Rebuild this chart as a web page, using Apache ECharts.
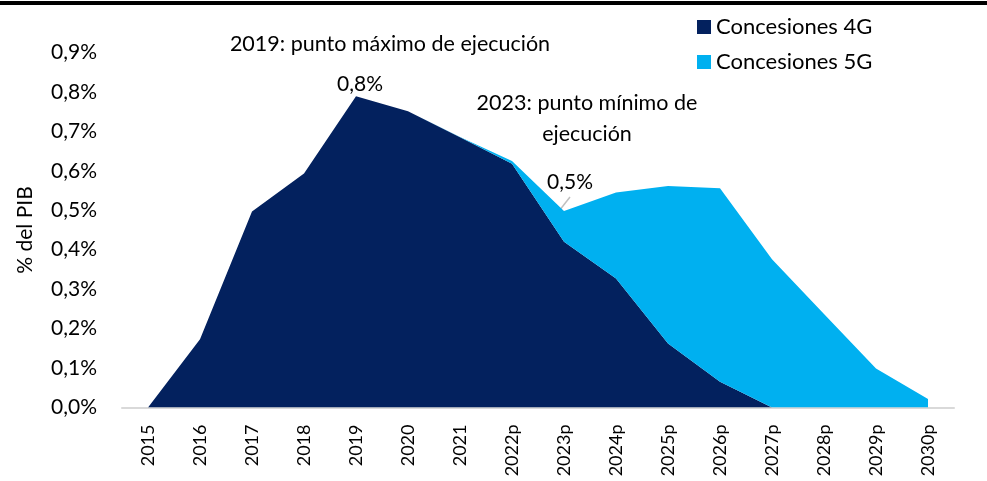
<!DOCTYPE html>
<html>
<head>
<meta charset="utf-8">
<script src="https://cdn.jsdelivr.net/npm/echarts@6/dist/echarts.min.js"></script>
<style>
html,body{margin:0;padding:0;background:#fff;}
#chart{width:987px;height:481px;}
</style>
</head>
<body>
<div id="chart"></div>
<script>
const categories = ['2015','2016','2017','2018','2019','2020','2021','2022p','2023p','2024p','2025p','2026p','2027p','2028p','2029p','2030p'];
const concesiones4G = [0, 0.173, 0.497, 0.593, 0.789, 0.751, 0.685, 0.618, 0.420, 0.327, 0.1625, 0.065, 0, 0, 0, 0];
const concesiones5G = [0, 0, 0, 0, 0, 0, 0.001, 0.007, 0.078, 0.218, 0.399, 0.491, 0.376, 0.237, 0.099, 0.0215];
const yTicks = { min: 0, max: 0.9, interval: 0.1 };
const seriesNames = ['Concesiones 4G', 'Concesiones 5G'];
const annotations = [
  { text: '2019: punto máximo de ejecución' },
  { text: '2023: punto mínimo de\nejecución' }
];
const peakIndex = 4, troughIndex = 8;

const FONT = 'Lato';
const chart = echarts.init(document.getElementById('chart'), null, { renderer: 'canvas' });

function pct(v){ return v.toFixed(1).replace('.', ',') + '%'; }

chart.setOption({
  animation: false,
  textStyle: { fontFamily: FONT },
  grid: { left: 122, right: 33, top: 52.5, bottom: 73.5, containLabel: false },
  legend: {
    left: 692, top: 11, orient: 'vertical', itemGap: 13,
    itemWidth: 14, itemHeight: 14, icon: 'rect',
    textStyle: { fontSize: 22, color: '#000', fontFamily: FONT },
    data: seriesNames
  },
  xAxis: {
    type: 'category', data: categories, boundaryGap: true,
    axisLine: { lineStyle: { color: '#d9d9d9', width: 2 } },
    axisTick: { show: false },
    axisLabel: { rotate: 90, fontSize: 18, color: '#000', margin: 17, fontFamily: FONT }
  },
  yAxis: {
    type: 'value', min: yTicks.min, max: yTicks.max, interval: yTicks.interval,
    name: '% del PIB', nameLocation: 'middle', nameGap: 86, nameRotate: 90,
    nameTextStyle: { fontSize: 21, color: '#000', fontFamily: FONT },
    axisLine: { show: false }, axisTick: { show: false }, splitLine: { show: false },
    axisLabel: { formatter: pct, fontSize: 21, color: '#000', margin: 25, fontFamily: FONT }
  },
  series: [
    {
      name: seriesNames[0], type: 'line', stack: 'total', data: concesiones4G,
      symbol: 'none', lineStyle: { width: 0 },
      itemStyle: { color: '#03215E' },
      areaStyle: { color: '#03215E', opacity: 1 }
    },
    {
      name: seriesNames[1], type: 'line', stack: 'total', data: concesiones5G,
      symbol: 'none', lineStyle: { width: 0 },
      itemStyle: { color: '#00B0F0' },
      areaStyle: { color: '#00B0F0', opacity: 1 }
    }
  ]
});

const pkVal = concesiones4G[peakIndex] + concesiones5G[peakIndex];
const trVal = concesiones4G[troughIndex] + concesiones5G[troughIndex];
const pk = chart.convertToPixel({ gridIndex: 0 }, [peakIndex, pkVal]);
const tr = chart.convertToPixel({ gridIndex: 0 }, [troughIndex, trVal]);
const txt = (x, y, s, size, extra) => Object.assign({ type: 'text', x, y, style: Object.assign({ text: s, fontSize: size, fill: '#000', fontFamily: FONT, align: 'center', verticalAlign: 'middle' }, extra || {}) });

chart.setOption({
  graphic: [
    { type: 'rect', shape: { x: 0, y: 1, width: 987, height: 4 }, style: { fill: '#000' } },
    txt(pk[0] + 34, pk[1] - 52, annotations[0].text, 21.5),
    txt(pk[0] + 4, pk[1] - 12, pct(pkVal), 21),
    txt(tr[0] + 23, tr[1] - 93, annotations[1].text, 21.5, { lineHeight: 31 }),
    txt(tr[0] + 6, tr[1] - 29, pct(trVal), 21),
    { type: 'line', shape: { x1: tr[0] - 5, y1: tr[1], x2: tr[0] + 6, y2: tr[1] - 14 }, style: { stroke: '#bfbfbf', lineWidth: 1.5 } }
  ]
});
</script>
</body>
</html>
